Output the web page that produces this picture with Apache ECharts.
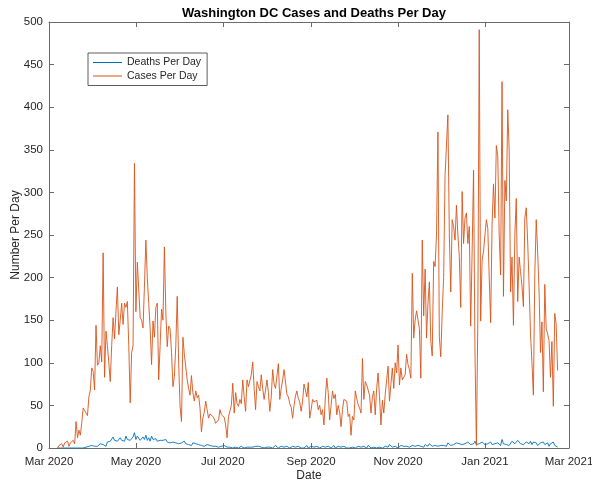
<!DOCTYPE html>
<html>
<head>
<meta charset="utf-8">
<script src="https://cdn.jsdelivr.net/npm/echarts@6/dist/echarts.min.js"></script>
<style>
  html, body { margin: 0; padding: 0; background: #fff; }
  #chart { width: 592px; height: 483px; }
</style>
</head>
<body>
<div id="chart"></div>
<script>
// first day of data: 7 Mar 2020, one value per day
const firstDay = [2020, 2, 7]
const axisStart = [2020, 2, 1]
const axisEnd = [2021, 2, 1]

const cases = [
  0, 3, 2, 5, 1, 6, 4, 8, 2, 6,
  7, 9, 5, 31, 12, 21, 15, 30, 47, 44,
  45, 38, 60, 68, 94, 90, 68, 144, 97, 100,
  120, 101, 229, 83, 137, 120, 100, 78, 120, 153,
  128, 160, 189, 133, 150, 170, 145, 170, 165, 172,
  120, 53, 112, 120, 334, 160, 218, 220, 153, 150,
  141, 190, 244, 200, 170, 140, 98, 149, 130, 165,
  170, 80, 120, 163, 150, 236, 160, 119, 143, 140,
  112, 72, 84, 120, 178, 100, 49, 31, 130, 110,
  95, 80, 70, 62, 85, 65, 55, 67, 59, 62,
  47, 19, 35, 42, 55, 45, 35, 40, 38, 37,
  34, 29, 31, 33, 45, 39, 40, 36, 27, 12,
  37, 36, 50, 76, 41, 65, 52, 49, 57, 52,
  80, 60, 43, 80, 72, 70, 86, 101, 70, 45,
  78, 72, 67, 86, 70, 57, 68, 80, 65, 43,
  60, 92, 75, 70, 68, 99, 57, 70, 80, 92,
  94, 63, 60, 52, 48, 35, 50, 61, 67, 58,
  54, 43, 55, 75, 76, 60, 77, 35, 45, 57,
  54, 56, 56, 45, 50, 39, 45, 27, 60, 82,
  65, 33, 50, 67, 58, 63, 39, 50, 42, 25,
  45, 57, 59, 55, 37, 40, 15, 37, 33, 67,
  58, 51, 47, 41, 105, 57, 78, 74, 76, 62,
  41, 60, 67, 39, 70, 88, 60, 27, 56, 41,
  63, 80, 96, 55, 75, 94, 70, 100, 88, 121,
  74, 94, 80, 82, 86, 110, 98, 92, 82, 205,
  129, 150, 161, 160, 140, 82, 244, 155, 210, 129,
  170, 195, 125, 108, 219, 213, 250, 371, 130, 107,
  160, 200, 320, 318, 391, 250, 183, 268, 260, 244,
  285, 250, 225, 165, 301, 240, 270, 276, 240, 260,
  143, 230, 326, 113, 3, 150, 491, 149, 220, 231,
  250, 268, 258, 200, 147, 262, 310, 270, 355, 343,
  250, 203, 430, 178, 314, 290, 397, 350, 183, 224,
  144, 251, 293, 172, 224, 207, 190, 166, 270, 282,
  242, 190, 134, 100, 62, 203, 268, 230, 183, 112,
  148, 66, 192, 140, 134, 126, 83, 125, 49, 158,
  145, 91
]

const deaths = [
  0, 0, 0, 0, 0, 0, 0, 0, 0, 0,
  0, 0, 0, 0, 0, 1, 0, 1, 0, 2,
  1, 0, 2, 1, 3, 1, 2, 4, 2, 3,
  5, 3, 4, 6, 2, 7, 5, 8, 6, 13,
  9, 11, 8, 10, 12, 9, 11, 8, 14, 10,
  12, 9, 11, 13, 18, 10, 14, 12, 9, 11,
  13, 10, 15, 9, 12, 8, 14, 10, 9, 11,
  8, 10, 9, 7, 9, 8, 10, 7, 9, 6,
  8, 7, 9, 6, 8, 5, 7, 6, 4, 8,
  5, 6, 4, 5, 3, 6, 4, 5, 3, 4,
  5, 3, 4, 2, 3, 4, 2, 3, 5, 2,
  3, 2, 4, 1, 3, 2, 1, 3, 2, 1,
  2, 1, 3, 0, 2, 1, 2, 0, 1, 2,
  1, 0, 2, 1, 0, 1, 3, 1, 0, 2,
  1, 2, 0, 1, 1, 0, 2, 1, 0, 1,
  2, 0, 1, 3, 1, 0, 1, 2, 0, 1,
  0, 2, 1, 0, 1, 2, 0, 1, 0, 2,
  1, 0, 2, 0, 1, 3, 0, 1, 2, 0,
  1, 0, 2, 1, 0, 1, 2, 0, 1, 0,
  2, 1, 0, 1, 3, 0, 1, 2, 0, 1,
  0, 2, 1, 0, 1, 0, 2, 1, 3, 0,
  1, 2, 0, 1, 0, 2, 1, 0, 3, 1,
  0, 2, 1, 1, 0, 2, 1, 3, 0, 1,
  2, 0, 1, 4, 2, 1, 3, 2, 1, 0,
  2, 3, 1, 2, 4, 2, 3, 1, 2, 3,
  5, 2, 1, 3, 4, 2, 3, 1, 4, 3,
  2, 5, 3, 2, 4, 3, 5, 2, 4, 3,
  5, 3, 4, 2, 6, 4, 3, 5, 4, 3,
  6, 4, 5, 3, 4, 6, 5, 4, 7, 5,
  4, 6, 5, 8, 4, 6, 5, 3, 7, 5,
  4, 6, 5, 3, 7, 4, 6, 5, 4, 6,
  5, 3, 10, 5, 7, 4, 6, 3, 5, 8,
  6, 5, 4, 9, 7, 5, 6, 4, 5, 7,
  6, 5, 8, 4, 7, 5, 6, 3, 4, 6,
  5, 7, 4, 3, 6, 2, 5, 4, 7, 3,
  2, 1
]

// x tick marks: first of every other month
const tickMonths = [[2020, 2], [2020, 4], [2020, 6], [2020, 8], [2020, 10], [2021, 0], [2021, 2]]
const monthNames = ['Jan', 'Feb', 'Mar', 'Apr', 'May', 'Jun', 'Jul', 'Aug', 'Sep', 'Oct', 'Nov', 'Dec']

const DAY = 864e5
const t0 = new Date(...axisStart)
const dayOf = d => Math.round((d - t0) / DAY)

const first = dayOf(new Date(...firstDay))
const tickDays = tickMonths.map(([y, m]) => dayOf(new Date(y, m, 1)))
const tickText = {}
tickMonths.forEach(([y, m], i) => { tickText[tickDays[i]] = monthNames[m] + ' ' + y })

const toPoints = arr => arr.map((v, i) => [first + i, v])

const axisColor = '#6b6b6b'
const textColor = '#262626'
const font = 'Liberation Sans, Arial, Helvetica, sans-serif'

const baseX = {
  type: 'value',
  min: 0,
  max: dayOf(new Date(...axisEnd)),
  axisLine: { show: true, onZero: false, lineStyle: { color: axisColor, width: 1 } },
  axisTick: { show: true, inside: true, length: 5, customValues: tickDays, lineStyle: { color: axisColor } },
  splitLine: { show: false }
}

const baseY = {
  type: 'value',
  min: 0,
  max: 500,
  interval: 50,
  axisLine: { show: true, onZero: false, lineStyle: { color: axisColor, width: 1 } },
  axisTick: { show: true, inside: true, length: 5, lineStyle: { color: axisColor } },
  splitLine: { show: false }
}

const chart = echarts.init(document.getElementById('chart'), null, { renderer: 'canvas' })

chart.setOption({
  animation: false,
  backgroundColor: '#fff',
  title: {
    text: 'Washington DC Cases and Deaths Per Day',
    left: 309,
    top: 2,
    textAlign: 'center',
    textStyle: { fontFamily: font, fontSize: 13, fontWeight: 'bold', color: '#000' }
  },
  legend: {
    orient: 'vertical',
    left: 88,
    top: 53,
    padding: [4, 6, 4, 5],
    itemGap: 2.5,
    itemWidth: 29,
    itemHeight: 1,
    icon: 'rect',
    borderColor: '#333',
    borderWidth: 0.8,
    borderRadius: 0,
    backgroundColor: '#fff',
    textStyle: { fontFamily: font, fontSize: 10.5, color: textColor },
    data: ['Deaths Per Day', 'Cases Per Day']
  },
  grid: { left: 49, right: 23, top: 22, bottom: 35, containLabel: false, outerBoundsMode: 'none' },
  xAxis: [
    {
      ...baseX,
      position: 'bottom',
      name: 'Date',
      nameLocation: 'middle',
      nameGap: 22,
      nameMoveOverlap: false,
      nameTextStyle: { fontFamily: font, fontSize: 12, color: textColor },
      axisLabel: {
        show: true,
        customValues: tickDays,
        margin: 8,
        fontFamily: font,
        fontSize: 11.5,
        color: textColor,
        formatter: v => tickText[v] || ''
      }
    },
    {
      ...baseX,
      position: 'top',
      axisLabel: { show: false }
    }
  ],
  yAxis: [
    {
      ...baseY,
      position: 'left',
      name: 'Number Per Day',
      nameLocation: 'middle',
      nameGap: 27,
      nameMoveOverlap: false,
      nameTextStyle: { fontFamily: font, fontSize: 12, color: textColor },
      axisLabel: { show: true, margin: 6, fontFamily: font, fontSize: 11.5, color: textColor }
    },
    {
      ...baseY,
      position: 'right',
      axisLabel: { show: false }
    }
  ],
  series: [
    {
      name: 'Deaths Per Day',
      type: 'line',
      xAxisIndex: 0,
      yAxisIndex: 0,
      data: toPoints(deaths),
      showSymbol: false,
      color: '#0072BD',
      lineStyle: { width: 0.9, color: '#0072BD' }
    },
    {
      name: 'Cases Per Day',
      type: 'line',
      xAxisIndex: 0,
      yAxisIndex: 0,
      data: toPoints(cases),
      showSymbol: false,
      color: '#D95319',
      lineStyle: { width: 0.9, color: '#D95319' }
    }
  ]
})
</script>
</body>
</html>
